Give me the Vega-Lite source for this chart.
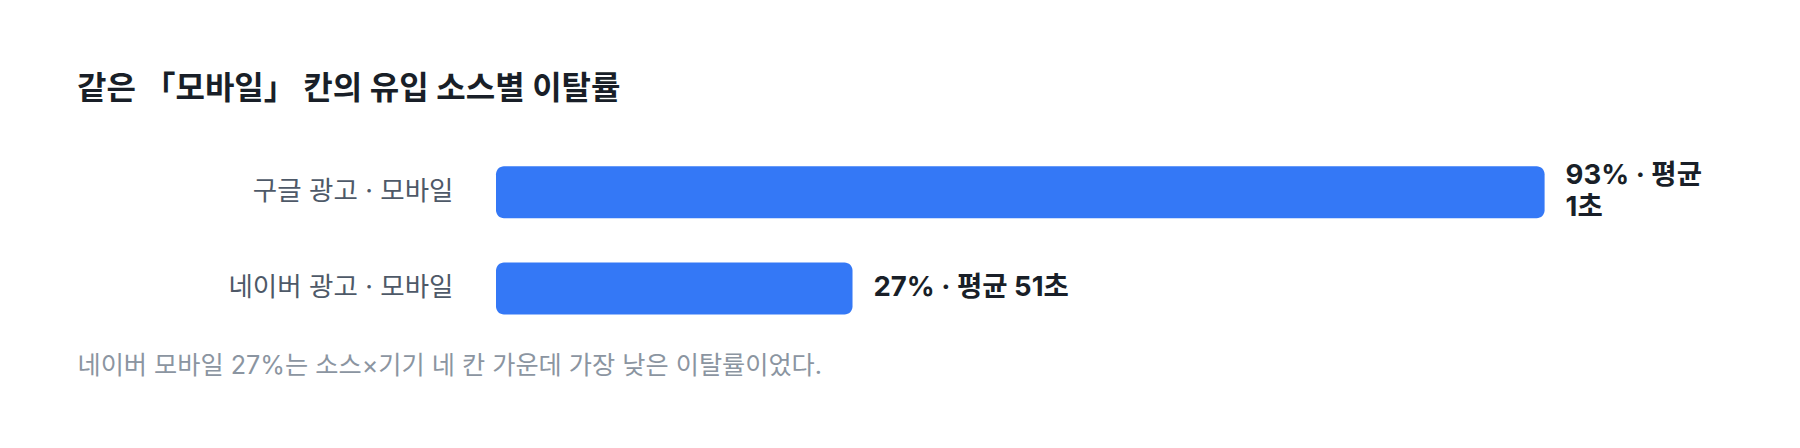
{
  "$schema": "https://vega.github.io/schema/vega-lite/v6.json",
  "width": 1122,
  "height": 192.6,
  "autosize": {"type": "none"},
  "padding": {"left": 496, "top": 144, "right": 182, "bottom": 111.4},
  "background": "#ffffff",
  "config": {
    "view": {"stroke": null},
    "font": "Inter, 'Noto Sans CJK KR', sans-serif"
  },
  "title": {
    "text": "같은 「모바일」 칸의 유입 소스별 이탈률",
    "anchor": "start",
    "frame": "group",
    "dx": -419,
    "offset": 13,
    "baseline": "alphabetic",
    "fontSize": 32,
    "fontWeight": 700,
    "color": "#191f28",
    "font": "Inter, 'Noto Sans CJK KR', sans-serif"
  },
  "data": {
    "values": [
      {"source": "구글 광고 · 모바일", "rate": 93, "label": "93% · 평균\n1초"},
      {"source": "네이버 광고 · 모바일", "rate": 27, "label": "27% · 평균 51초"}
    ]
  },
  "encoding": {
    "y": {
      "field": "source",
      "type": "nominal",
      "sort": null,
      "scale": {"paddingInner": 0.46, "paddingOuter": 0.23},
      "axis": {
        "title": null,
        "domain": false,
        "ticks": false,
        "grid": false,
        "labelPadding": 43,
        "labelFontSize": 26.5,
        "labelColor": "#4e5968",
        "labelFont": "Inter, 'Noto Sans CJK KR', sans-serif",
        "labelLimit": 400
      }
    }
  },
  "layer": [
    {
      "mark": {"type": "bar", "color": "#3478f6", "cornerRadius": 8},
      "encoding": {
        "x": {
          "field": "rate",
          "type": "quantitative",
          "scale": {"domain": [-7, 100], "zero": false, "nice": false},
          "axis": {
            "title": "네이버 모바일 27%는 소스×기기 네 칸 가운데 가장 낮은 이탈률이었다.",
            "labels": false,
            "ticks": false,
            "domain": false,
            "grid": false,
            "titleX": -419,
            "titleY": 29,
            "titleAlign": "left",
            "titleAnchor": "start",
            "titleBaseline": "middle",
            "titleFontSize": 25.2,
            "titleFontWeight": 400,
            "titleColor": "#8b95a1",
            "titleFont": "Inter, 'Noto Sans CJK KR', sans-serif"
          }
        },
        "x2": {"datum": -7}
      }
    },
    {
      "transform": [{"filter": "indexof(datum.label, '\\n') < 0"}],
      "mark": {
        "type": "text",
        "align": "left",
        "baseline": "middle",
        "dx": 21,
        "fontSize": 27.5,
        "fontWeight": 700,
        "color": "#191f28"
      },
      "encoding": {
        "x": {"field": "rate", "type": "quantitative"},
        "text": {"field": "label"}
      }
    },
    {
      "transform": [{"filter": "indexof(datum.label, '\\n') >= 0"}],
      "mark": {
        "type": "text",
        "align": "left",
        "baseline": "middle",
        "dx": 21,
        "dy": -16,
        "fontSize": 27.5,
        "fontWeight": 700,
        "color": "#191f28",
        "lineBreak": "\n",
        "lineHeight": 32
      },
      "encoding": {
        "x": {"field": "rate", "type": "quantitative"},
        "text": {"field": "label"}
      }
    }
  ]
}
